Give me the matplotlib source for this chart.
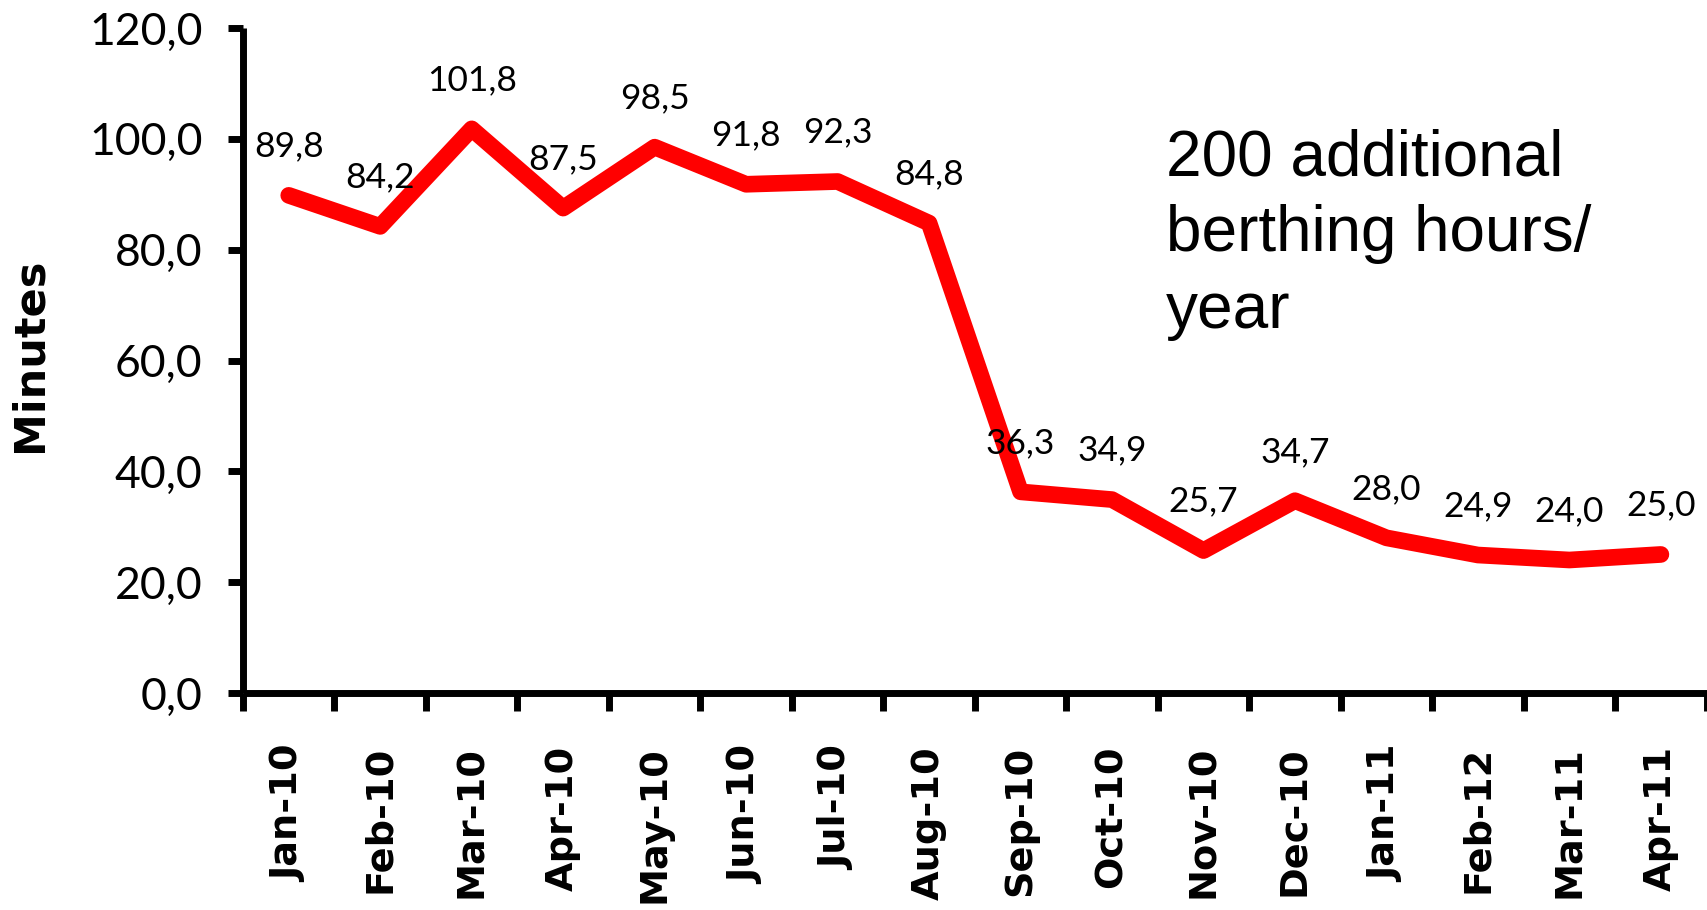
import matplotlib
matplotlib.use("Agg")
import matplotlib.pyplot as plt
import numpy as np

months = ["Jan-10", "Feb-10", "Mar-10", "Apr-10", "May-10", "Jun-10", "Jul-10", "Aug-10",
          "Sep-10", "Oct-10", "Nov-10", "Dec-10", "Jan-11", "Feb-12", "Mar-11", "Apr-11"]
minutes = [89.8, 84.2, 101.8, 87.5, 98.5, 91.8, 92.3, 84.8,
           36.3, 34.9, 25.7, 34.7, 28.0, 24.9, 24.0, 25.0]
y_ticks = [0, 20, 40, 60, 80, 100, 120]
note = "200 additional\nberthing hours/\nyear"

fig = plt.figure(figsize=(17.08, 9.10), dpi=100)
ax = fig.add_axes([243 / 1708, 1 - 693 / 910, 1 - 243 / 1708 - 0.0008, (693 - 28) / 910])

x = np.arange(len(months))
ax.plot(x, minutes, color="#ff0000", lw=12, solid_capstyle="round", solid_joinstyle="round")

for xi, v in zip(x, minutes):
    ax.annotate(f"{v:.1f}".replace(".", ","), (xi, v), xytext=(0, 28), textcoords="offset points",
                ha="center", va="baseline", fontsize=25.5, family="Lato")

ax.set_xlim(-0.5, len(months) - 0.5)
ax.set_ylim(0, 120)
ax.set_yticks(y_ticks)
ax.set_yticklabels([f"{t:.1f}".replace(".", ",") for t in y_ticks], family="Lato", fontsize=32)
ax.set_xticks(x)
ax.set_xticklabels(months, rotation=90, family="DejaVu Sans", fontweight="bold", fontsize=27.5, va="top")
ax.set_xticks(np.arange(-0.5, len(months), 1), minor=True)
ax.tick_params(axis="x", which="major", length=0, pad=38)
ax.tick_params(axis="x", which="minor", length=13, width=5, direction="out")
ax.tick_params(axis="y", length=11, width=5, direction="out", pad=18)

for s in ["top", "right"]:
    ax.spines[s].set_visible(False)
for s in ["left", "bottom"]:
    ax.spines[s].set_linewidth(5)
    ax.spines[s].set_capstyle("butt")

fig.text(30 / 1708, 1 - 355 / 910, "Minutes", rotation=90, ha="center", va="center",
         fontsize=31, fontweight="bold", family="DejaVu Sans")

fig.text(1166 / 1708, 1 - 128 / 910, note, ha="left", va="top", fontsize=46,
         family="Liberation Sans", linespacing=1.35)

fig.savefig("out.png", dpi=100)
